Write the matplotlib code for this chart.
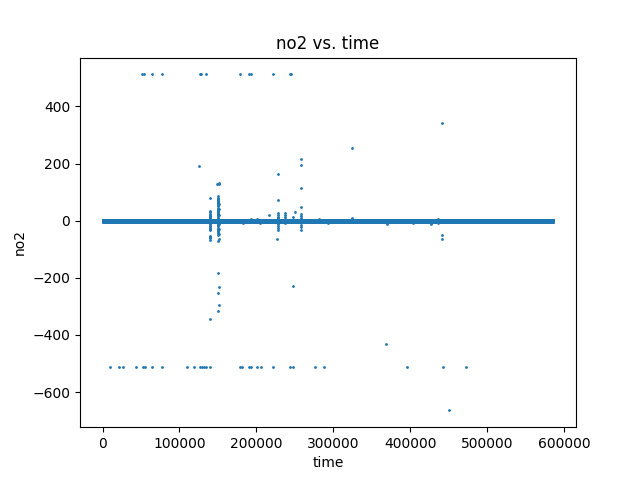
import numpy as np
import matplotlib
matplotlib.use('Agg')
import matplotlib.pyplot as plt

# dense baseline band: readings sit close to zero over the whole record
band_start = 0
band_end = 586000
band_step = 50
baseline_levels = [0.0, 2.0, -2.0, 1.0, -1.0, 3.0, -3.0, 0.5]

# error-code rows (about +/-512)
top_time = [51700, 54200, 64200, 77200, 126700, 128000, 134500, 178800,
            190500, 193100, 221700, 243900, 245200]
top_no2 = [512] * len(top_time)

bottom_time = [9500, 21200, 26400, 43400, 52500, 55100, 64700, 77200,
               109800, 118900, 126700, 129300, 131900, 134500, 139700,
               178800, 181400, 190500, 193100, 201000, 206200, 221800,
               243900, 247800, 276400, 288200, 396200, 443100, 471800]
bottom_no2 = [-513] * len(bottom_time)

# the two busy columns around 140k and 150k
col150_no2 = [85, 81, 77, 74, 70, 66, 62, 58, 54, 50, 46, 42, 39, 35, 31,
              27, 23, 19, 15, 11, 8, 4, -4, -8, -12, -16, -20, -24, -28,
              -32, -36, -40, -44, -49, -72]
col150_time = [150100] * len(col150_no2)
col151_no2 = [132, 129, 60, 40, 20, -10, -30, -46, -65]
col151_time = [151400] * len(col151_no2)
col140_no2 = [80, 33, 29, 25, 21, 17, 13, 9, 5, -5, -9, -13, -17, -20,
              -24, -29, -32, -53, -57, -61, -69]
col140_time = [139700] * len(col140_no2)

# smaller clusters further right
clus_time = [228300, 228300, 228300, 228300, 228300, 228300, 228300,
             228300, 228300, 227000, 228300,
             216500, 250400, 258200, 258200, 258200, 258200, 258200,
             258200, 258200,
             237400, 237400, 237400, 237400, 237400, 247800, 246000]
clus_no2 = [28, 20, 14, 8, -6, -12, -20, -26, -32, -64, 73,
            21, 30, 23, 15, 8, -6, -14, -22, -32,
            28, 20, 12, 6, -8, 12, -6]

# scattered outliers
out_time = [324600, 258200, 258200, 125400, 228300, 148800, 258200,
            441800, 258200,
            182700, 193000, 201000, 205000, 281600, 281600, 293400,
            324600, 324600, 65500,
            369400, 404000, 427500, 436600, 436600, 441800, 441800, 441800,
            368900, 450900]
out_no2 = [255, 216, 195, 192, 164, 129, 115,
           343, 48,
           -8, 5, 5, -8, 5, -5, -8,
           10, -5, -5,
           -12, -8, -12, 5, -8, -3, -50, -64,
           -433, -664]

deep_time = [150100, 151400, 150100, 151400, 150100, 139700, 247800]
deep_no2 = [-184, -233, -254, -296, -317, -345, -229]

band_time = np.arange(band_start, band_end + 1, band_step)
band_no2 = np.resize(baseline_levels, len(band_time))

time = np.concatenate([band_time, top_time, bottom_time, col150_time,
                       col151_time, col140_time, clus_time, out_time,
                       deep_time])
no2 = np.concatenate([band_no2, top_no2, bottom_no2, col150_no2,
                      col151_no2, col140_no2, clus_no2, out_no2, deep_no2])

fig, ax = plt.subplots(figsize=(6.4, 4.8), dpi=100)
ax.scatter(time, no2, s=1)
ax.set_title('no2 vs. time')
ax.set_xlabel('time')
ax.set_ylabel('no2')
fig.savefig('out.png')
